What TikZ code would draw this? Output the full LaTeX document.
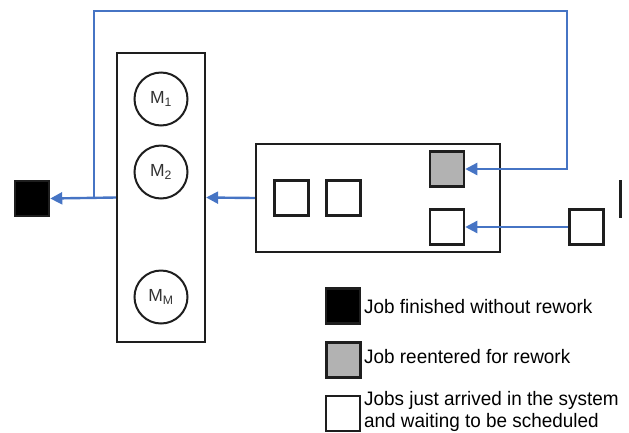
\documentclass[tikz,border=0pt]{standalone}
\usepackage{fontspec}
\setmainfont{Liberation Sans}
\newfontfamily\legendfont[FakeStretch=0.97]{Liberation Sans}
\usetikzlibrary{arrows.meta}
\begin{document}
\begin{tikzpicture}[x=1pt,y=-1pt,
  flow/.style={draw=flowblue,line width=2.4pt,-{Triangle[length=12pt,width=12pt]}},
  job/.style={draw=boxline,line width=2.5pt,minimum width=34pt,minimum height=35pt,inner sep=0pt},
  frame/.style={draw=boxline,line width=2.3pt,inner sep=0pt},
  machine/.style={circle,draw=boxline,line width=2pt,minimum size=53pt,inner sep=0pt,text=labelgray,font=\fontsize{17.5}{20}\selectfont},
  legtext/.style={anchor=base west,inner sep=0pt,font=\legendfont\fontsize{19.5}{22}\selectfont}]
\definecolor{flowblue}{RGB}{70,116,196}
\definecolor{boxline}{RGB}{30,30,30}
\definecolor{labelgray}{RGB}{50,50,50}
\definecolor{reworkgray}{RGB}{178,178,178}
\useasboundingbox (0,0) rectangle (629,432);

% machine group with parallel machines
\node[frame,minimum width=88pt,minimum height=289pt] (mach) at (161,197.5) {};
\node[machine] (m1) at (161,99) {M\textsubscript{1}};
\node[machine] (m2) at (161,172) {M\textsubscript{2}};
\node[machine] (mm) at (161,297) {M\textsubscript{M}};

% waiting queue
\node[frame,minimum width=244pt,minimum height=108pt] (queue) at (378,198) {};
\node[job] (q1) at (291.5,198) {};
\node[job] (q2) at (343.5,198) {};
\node[job,fill=reworkgray] (rw) at (447,169) {};
\node[job] (nw) at (447,227) {};

% outside jobs
\node[job,fill=black] (done) at (32,198.5) {};
\node[job] (arr) at (586.5,227) {};
\fill[boxline] (619,180) rectangle (622,218);

% flows
\draw[flow] (queue.west) -- (mach.east);
\draw[flow] (mach.west) -- (done.east);
\coordinate (split) at (94,198);
\coordinate (loop) at (567,11);
\draw[flow] (split) |- (loop) |- (rw.east);
\draw[flow] (arr.west) -- (nw.east);

% legend
\node[job,fill=black] (lg1) at (343,306) {};
\node[job,fill=reworkgray] (lg2) at (343.5,360) {};
\node[job] (lg3) at (343,413.5) {};
\node[legtext] (t1) at (364,313) {Job finished without rework};
\node[legtext] (t2) at (364,363) {Job reentered for rework};
\node[legtext] (t3) at (364,405) {Jobs just arrived in the system};
\node[legtext] (t4) at (364,427) {and waiting to be scheduled};
\end{tikzpicture}
\end{document}
